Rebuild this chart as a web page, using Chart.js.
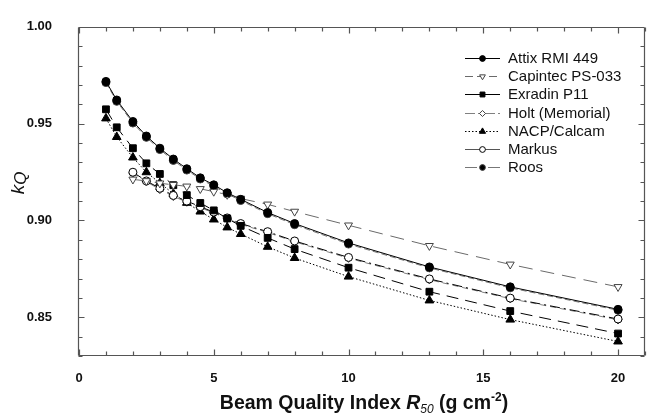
<!DOCTYPE html>
<html><head><meta charset="utf-8">
<script src="https://cdn.jsdelivr.net/npm/chart.js@4.4.0/dist/chart.umd.min.js"></script>
<style>
html,body{margin:0;padding:0;overflow:hidden;background:#fff;width:650px;height:415px}
#wrap{width:652px;height:415px}
</style></head>
<body><div id="wrap"><canvas id="c" width="652" height="415"></canvas></div>
<script>
// R50 values (g cm^-2)
const xFull  = [1,1.4,2,2.5,3,3.5,4,4.5,5,5.5,6,7,8,10,13,16,20];
const xFrom2 = [2,2.5,3,3.5,4,4.5,5,5.5,6,7,8,10,13,16,20];
// kQ values per chamber
const attix    = [0.9718,0.9622,0.9511,0.9436,0.9373,0.9317,0.9267,0.9220,0.9184,0.9143,0.9109,0.9041,0.8984,0.8884,0.8760,0.8657,0.8541];
const capintec = [0.9212,0.9204,0.9192,0.9184,0.9176,0.9163,0.9149,0.9133,0.9113,0.9083,0.9046,0.8975,0.8869,0.8773,0.8657];
const exradin  = [0.9574,0.9481,0.9373,0.9295,0.9240,0.9182,0.9131,0.9090,0.9052,0.9010,0.8972,0.8910,0.8852,0.8756,0.8632,0.8532,0.8416];
const holt     = [0.9245,0.9200,0.9160,0.9124,0.9095,0.9066,0.9039,0.9009,0.8980,0.8938,0.8890,0.8805,0.8694,0.8596,0.8487];
const nacp     = [0.9527,0.9431,0.9325,0.9249,0.9193,0.9138,0.9091,0.9046,0.9005,0.8964,0.8930,0.8864,0.8806,0.8710,0.8587,0.8488,0.8375];
const markus   = [0.9249,0.9204,0.9166,0.9129,0.9100,0.9071,0.9043,0.9013,0.8984,0.8942,0.8894,0.8809,0.8698,0.8599,0.8491];
const roos     = [0.9712,0.9615,0.9503,0.9429,0.9366,0.9310,0.9260,0.9214,0.9177,0.9137,0.9103,0.9035,0.8978,0.8878,0.8755,0.8652,0.8536];
const seriesNames = ['Attix RMI 449','Capintec PS-033','Exradin P11','Holt (Memorial)','NACP/Calcam','Markus','Roos'];
const xTickLabels = ['0','5','10','15','20'];
const yTickLabels = ['0.85','0.90','0.95','1.00'];

const FONT = '"Liberation Sans", Arial, Helvetica, sans-serif';
const pts = (xs, ys) => xs.map((x,i)=>({x:x, y:ys[i]}));

const specs = [
  {data:pts(xFull,attix),    color:'#000', dash:[],          style:'circle',   r:4,   fill:'#000', order:1, lg:{dash:[], color:'#000'}},
  {data:pts(xFrom2,capintec),color:'#6a6a6a', dash:[14,8],   style:'triangle', r:4.6, fill:'#fff', rot:180, order:1, lg:{dash:[8,4], color:'#6a6a6a'}},
  {data:pts(xFull,exradin),  color:'#000', dash:[12,7],      style:'rect',     r:4.8, fill:'#000', order:2, lg:{dash:[], color:'#000'}},
  {data:pts(xFrom2,holt),    color:'#808080', dash:[6,4],    style:'rectRot',  r:4.2, fill:'#fff', order:4, lg:{dash:[10,3,4,3], color:'#808080'}},
  {data:pts(xFull,nacp),     color:'#000', dash:[1.5,2],     style:'triangle', r:5,   fill:'#000', order:3, lg:{dash:[1.5,2], color:'#000'}},
  {data:pts(xFrom2,markus),  color:'#000', dash:[10,4,2,4],  style:'circle',   r:4,   fill:'#fff', order:2, lg:{dash:[], color:'#555'}},
  {data:pts(xFull,roos),     color:'#777', dash:[6,3],       style:'circle',   r:4,   fill:'#000', order:3, lg:{dash:[12,3,5,3], color:'#777'}}
];

const datasets = specs.map((s,i)=>({
  label: seriesNames[i], data: s.data, order: s.order,
  borderColor: s.color, borderWidth: 1, borderDash: s.dash, fill:false, tension:0,
  pointStyle: s.style, pointRadius: s.r, pointRotation: s.rot||0,
  pointBackgroundColor: s.fill, pointBorderColor: s.color==='#000'?'#000':'#444', pointBorderWidth: 1,
  pointHoverRadius: s.r
}));

const decor = {
  id:'decor',
  afterDraw(chart){
    const ctx = chart.ctx, a = chart.chartArea, xs = chart.scales.x, ys = chart.scales.y;
    ctx.save();
    ctx.setLineDash([]);
    ctx.globalAlpha = 1;
    ctx.globalCompositeOperation = 'source-over';
    const L=Math.round(a.left)-0.5, R=Math.round(a.right)-0.5, T=Math.round(a.top)+0.5, B=Math.round(a.bottom)-0.5;
    ctx.strokeStyle='#555'; ctx.lineWidth=1.2;
    // frame
    ctx.beginPath();
    ctx.moveTo(L,T); ctx.lineTo(R,T);
    ctx.moveTo(L,B); ctx.lineTo(R,B);
    ctx.moveTo(L,T); ctx.lineTo(L,B);
    ctx.moveTo(R,T); ctx.lineTo(R,B);
    // inward ticks
    for(let v=0; v<=21; v++){
      const px=Math.round(xs.getPixelForValue(v))+0.5, len = v%5===0?6:4;
      ctx.moveTo(px,B); ctx.lineTo(px,B-len);
      ctx.moveTo(px,T); ctx.lineTo(px,T+len);
    }
    for(let k=83; k<=100; k++){
      const py=Math.round(ys.getPixelForValue(k/100))+0.5, len = k%5===0?6:4;
      ctx.moveTo(L,py); ctx.lineTo(L+len,py);
      ctx.moveTo(R,py); ctx.lineTo(R-len,py);
    }
    ctx.stroke();

    // legend
    const rowY0=58, dy=18.2, x0=465, x1=500, xm=482.5, tx=508;
    specs.forEach((s,i)=>{
      const yy=Math.round(rowY0+i*dy)+0.5;
      ctx.strokeStyle=s.lg.color; ctx.lineWidth=1.2; ctx.setLineDash(s.lg.dash);
      ctx.beginPath(); ctx.moveTo(x0,yy); ctx.lineTo(x1,yy); ctx.stroke();
      ctx.setLineDash([]);
      ctx.fillStyle=s.fill; ctx.strokeStyle=s.color==='#000'?'#000':'#444'; ctx.lineWidth=1;
      Chart.helpers.drawPoint(ctx, {pointStyle:s.style, radius:s.r*0.72, rotation:s.rot||0, borderWidth:1}, xm, yy);
      ctx.fillStyle='#111'; ctx.font='15px '+FONT; ctx.textBaseline='middle'; ctx.textAlign='left';
      ctx.fillText(seriesNames[i], tx, yy+0.5);
    });

    // x title with italic R and subscript/superscript
    const parts=[
      {t:'Beam Quality Index ', f:'bold 19.5px '+FONT, dy:0},
      {t:'R', f:'italic bold 19.5px '+FONT, dy:0},
      {t:'50', f:'italic 12px '+FONT, dy:4},
      {t:' (g cm', f:'bold 19.5px '+FONT, dy:0},
      {t:'-2', f:'bold 12px '+FONT, dy:-8},
      {t:')', f:'bold 19.5px '+FONT, dy:0}
    ];
    let w=0; parts.forEach(p=>{ctx.font=p.f; p.w=ctx.measureText(p.t).width; w+=p.w;});
    let cx=(a.left+a.right)/2 - w/2 + 2; const base=409;
    ctx.fillStyle='#111'; ctx.textBaseline='alphabetic'; ctx.textAlign='left';
    parts.forEach(p=>{ctx.font=p.f; ctx.fillText(p.t,cx,base+p.dy); cx+=p.w;});

    // y title kQ
    ctx.translate(24,183); ctx.rotate(-Math.PI/2);
    ctx.font='italic 19px '+FONT; const wk=ctx.measureText('k').width;
    ctx.font='italic 17px '+FONT; const wq=ctx.measureText('Q').width;
    const sx=-(wk+wq)/2;
    ctx.font='italic 19px '+FONT; ctx.fillText('k',sx,0);
    ctx.font='italic 17px '+FONT; ctx.fillText('Q',sx+wk,2);
    ctx.restore();
  }
};

new Chart(document.getElementById('c'), {
  type:'line',
  data:{datasets},
  plugins:[decor],
  options:{
    responsive:false, animation:false, devicePixelRatio:1,
    layout:{padding:{top:15,right:1,left:0,bottom:0}},
    plugins:{legend:{display:false}, tooltip:{enabled:false}},
    scales:{
      x:{type:'linear', min:0, max:21, grid:{display:false}, border:{display:false},
        ticks:{stepSize:1, autoSkip:false, maxRotation:0, padding:7, color:'#111',
          font:{family:FONT, weight:'bold', size:13},
          callback:(v)=>{ const i = xTickLabels.indexOf(String(v)); return i>=0 ? xTickLabels[i] : ''; }},
        afterFit(s){ s.height=59; }},
      y:{type:'linear', min:0.83, max:1.0, grid:{display:false}, border:{display:false},
        ticks:{stepSize:0.01, autoSkip:false, padding:19, color:'#111',
          font:{family:FONT, weight:'bold', size:13},
          callback:(v)=>{ const s=(Math.round(v*100)/100).toFixed(2); return yTickLabels.includes(s)?s:''; }},
        afterFit(s){ s.width=79; }}
    }
  }
});
</script>
</body></html>
